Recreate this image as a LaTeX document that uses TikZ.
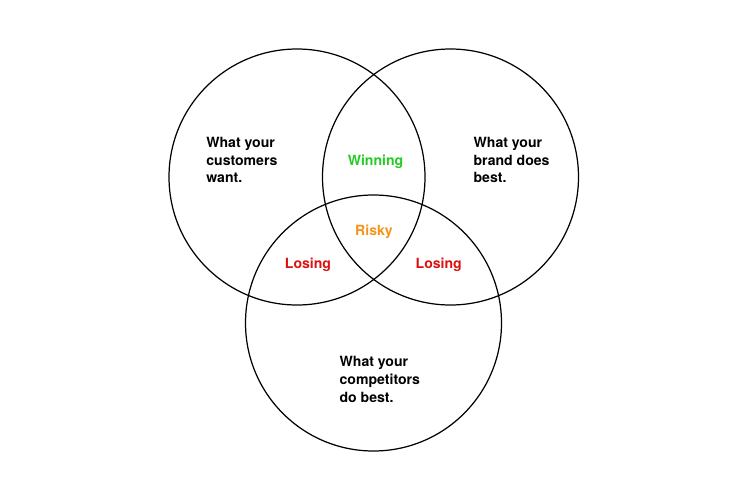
\documentclass[tikz,border=0pt]{standalone}
\usepackage{fontspec}
\setmainfont{TeX Gyre Heros}
\usepackage{xcolor}
\usepackage{tikz}
\usetikzlibrary{positioning}

\definecolor{wingreen}{HTML}{22CC22}
\definecolor{riskorange}{HTML}{F39419}
\definecolor{losered}{HTML}{DD1111}

\begin{document}
\begin{tikzpicture}[
  font=\fontsize{8}{10}\selectfont\bfseries,
  ring/.style={draw, circle, line width=0.7pt, minimum size=5.12cm, inner sep=0pt},
  say/.style={align=left, anchor=west, inner sep=0pt},
  zone/.style={inner sep=0pt},
]
\useasboundingbox (0,0) rectangle (15,-9.98);
% 三个圆：左上 / 右上 / 下方（单位：cm）
\node[ring] (cust) at (5.94,-3.54) {};
\node[ring] (brand) at (9.01,-3.54) {};
\node[ring] (comp) at (7.47,-6.46) {};

% 各圆自身的说明文字
\node[say] (custtxt) at (4.12,-3.2) {What your\\customers\\want.};
\node[say] (brandtxt) at (9.466,-3.2) {What your\\brand does\\best.};
\node[say] (comptxt) at (6.786,-7.59) {What your\\competitors\\do best.};

% 交集区域
\node[zone, text=wingreen] (win) at (7.51,-3.24) {Winning};
\node[zone, text=riskorange] (risk) at (7.48,-4.64) {Risky};
\node[zone, text=losered] (loseL) at (6.16,-5.3) {Losing};
\node[zone, text=losered] (loseR) at (8.774,-5.3) {Losing};
\end{tikzpicture}
\end{document}
